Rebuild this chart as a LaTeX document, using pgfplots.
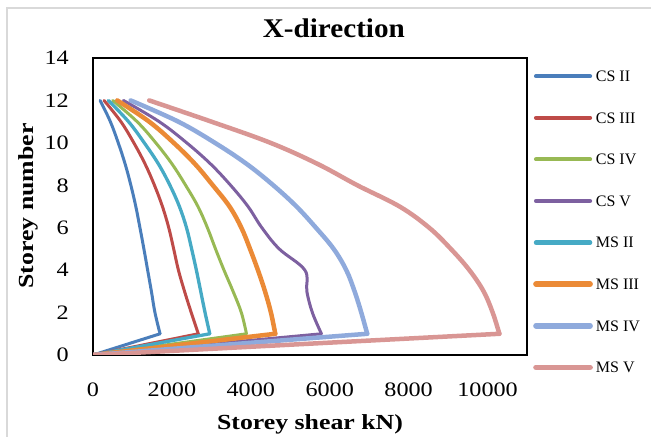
\documentclass[border=0pt]{standalone}
\usepackage{fontspec}
\setmainfont{Liberation Serif}
\newfontfamily\tickfont{Liberation Serif}[FakeStretch=1.18]
\newfontfamily\labfont{Liberation Serif}[FakeStretch=1.2]
\newfontfamily\titfont{Liberation Serif}[FakeStretch=1.08]
\usepackage{pgfplots}
\usepackage{pgfplotstable}
\pgfplotsset{compat=1.18}

\definecolor{csii}{HTML}{4A7EBB}
\definecolor{csiii}{HTML}{BE4B48}
\definecolor{csiv}{HTML}{98B954}
\definecolor{csv}{HTML}{7D60A0}
\definecolor{msii}{HTML}{46AAC5}
\definecolor{msiii}{HTML}{EB8A36}
\definecolor{msiv}{HTML}{8FAADC}
\definecolor{msv}{HTML}{D99694}

% storey shear (kN) per storey
\pgfplotstableread{
storey csii csiii csiv csv msii msiii msiv msv
0  0    0    0    0    0    0    0    0
1  1700 2670 3890 5790 2960 4620 6950 10300
2  1570 2490 3760 5560 2840 4510 6800 10130
3  1480 2320 3550 5420 2730 4360 6630 9900
4  1385 2165 3320 5370 2620 4180 6420 9540
5  1290 2045 3105 4720 2500 3980 6100 9070
6  1190 1920 2900 4280 2370 3760 5650 8520
7  1085 1760 2660 3929 2190 3460 5157 7770
8  960  1558 2348 3488 1950 3037 4570 6700
9  815  1321 2005 2983 1660 2587 3899 5700
10 640  1035 1592 2376 1300 2046 3091 4500
11 440  707  1117 1677 900  1423 2162 3000
12 180  280  500  770  390  615  955  1425
}\shear

% base segment straight, storeys 1-12 smoothed
\newcommand\series[4]{%
  \addplot[#2, line width=#3, forget plot, restrict y to domain=0:1]
    table[x=#1, y=storey] {\shear};
  \addplot[#2, line width=#3, smooth, tension=0.6, restrict y to domain=1:12]
    table[x=#1, y=storey] {\shear};
  \addlegendentry{#4}
}

\begin{document}
\begin{tikzpicture}
\useasboundingbox (0,0) rectangle (651bp,437bp);
\draw[color=black!15, line width=1.5bp] (7bp,0bp) -- (7bp,429bp) -- (651bp,429bp);
\begin{axis}[
    at={(93bp,82bp)}, anchor=south west,
    scale only axis, width=434bp, height=297bp,
    xmin=0, xmax=11000, ymin=0, ymax=14,
    xtick={0,2000,...,10000}, ytick={0,2,...,14},
    scaled x ticks=false,
    major tick length=0pt,
    axis line style={line width=1.6bp, black},
    tick label style={font=\tickfont\fontsize{20.5bp}{24bp}\selectfont, inner sep=0pt},
    /pgf/number format/assume math mode=true,
    /pgf/number format/1000 sep={},
    xticklabel style={anchor=center, yshift=-35bp},
    yticklabel style={anchor=east, xshift=-24bp},
    xlabel={Storey shear kN)}, ylabel={Storey number},
    label style={font=\labfont\bfseries\fontsize{21.5bp}{26bp}\selectfont},
    xlabel style={at={(axis description cs:0.5,-0.232)}, anchor=center},
    ylabel style={at={(axis description cs:-0.150,0.502)}, anchor=center},
    title={X-direction},
    title style={at={(axis description cs:0.555,1.081)}, anchor=center,
        font=\titfont\bfseries\fontsize{27bp}{32bp}\selectfont},
    legend style={at={(axis description cs:1.0138,0.964)}, anchor=north west,
        draw=none, fill=none, inner sep=0pt, row sep=27bp, column sep=3bp,
        nodes={inner sep=0pt, text height=12.6bp, text depth=2bp,
            font=\fontsize{16bp}{19bp}\selectfont}},
    legend cell align=left,
    legend image code/.code={\draw[#1, line width=\pgflinewidth+0.6bp] (0bp,0bp) -- (54bp,0bp);},
    every axis plot/.append style={line cap=round, line join=round},
]
\series{csii}{csii}{3bp}{CS II}
\series{csiii}{csiii}{3bp}{CS III}
\series{csiv}{csiv}{3bp}{CS IV}
\series{csv}{csv}{3bp}{CS V}
\series{msii}{msii}{3.3bp}{MS II}
\series{msiii}{msiii}{4.5bp}{MS III}
\series{msiv}{msiv}{4.5bp}{MS IV}
\series{msv}{msv}{4.5bp}{MS V}
\end{axis}
\end{tikzpicture}
\end{document}
